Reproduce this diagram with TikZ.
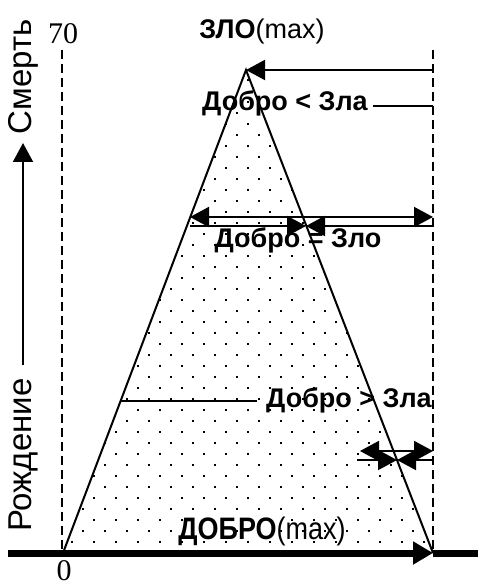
\documentclass[tikz,border=0pt]{standalone}
\usepackage{fontspec}
\setmainfont{Liberation Sans}
\newfontfamily\numfont{Liberation Serif}
\usetikzlibrary{arrows.meta}
\usetikzlibrary{positioning}

\tikzset{
    lbl/.style={font=\fontsize{27}{31}\selectfont\bfseries, inner sep=0pt},
    side/.style={font=\fontsize{33}{37}\selectfont, inner sep=0pt, rotate=90},
    num/.style={font=\numfont\fontsize{30}{34}\selectfont, inner sep=0pt},
    guide/.style={dash pattern=on 9pt off 5pt, line width=2pt},
    thin/.style={line width=2pt},
    tip/.style={thin, -{Triangle[length=19pt,width=20pt]}},
    both/.style={thin, {Triangle[length=19pt,width=20pt]}-{Triangle[length=19pt,width=20pt]}},
    axis/.style={line width=7pt},
}

\begin{document}
\begin{tikzpicture}[x=1pt, y=-1pt]
    \useasboundingbox (0,0) rectangle (478,588);

    % corners of the triangle and the axis
    \coordinate (apex) at (246,70);
    \coordinate (bl) at (63,553);
    \coordinate (br) at (433,553);
    \coordinate (axl) at (8,553);
    \coordinate (axr) at (478,553);
    \coordinate (lt) at (62,50);
    \coordinate (lb) at (62,553);
    \coordinate (rt) at (433,50);

    % dotted fill
    \begin{scope}
        \clip (apex) -- (bl) -- (br) -- cycle;
        \foreach \j in {0,...,45}{
            \pgfmathsetmacro{\yy}{553-11*\j}
            \pgfmathsetmacro{\xs}{61+11*mod(\j,2)}
            \foreach \i in {0,...,17}{
                \fill ({\xs+22*\i-1.4},{\yy-1.4}) rectangle +(2.8,2.8);
            }
        }
    \end{scope}

    \draw[guide] (lt) -- (lb);
    \draw[guide] (rt) -- (br);
    \draw[thin] (bl) -- (apex) -- (br);

    % labels
    \node[lbl] (zlo) at (262,32) {ЗЛО\mdseries(max)};
    \node[lbl] (less) at (285,103) {Добро < Зла};
    \node[lbl] (equal) at (298,240) {Добро = Зло};
    \node[lbl] (more) at (349,400) {Добро > Зла};
    \node[lbl, yscale=1.15] (dobro) at (262,531) {ДОБРО\mdseries(max)};
    \node[num] (top) at (63,34) {70};
    \node[num] (zero) at (64,571) {0};
    \node[side] (death) at (23,77) {Смерть};
    \node[side] (birth) at (23,455) {Рождение};

    % connectors
    \coordinate (r70) at (433,70);
    \draw[tip] (r70) -- (apex);
    \coordinate (lessa) at (373,106);
    \coordinate (lessb) at (433,106);
    \draw[thin] (lessa) -- (lessb);

    \coordinate (m1l) at (190,217);
    \coordinate (m1r) at (433,217);
    \draw[both] (m1l) -- (m1r);
    \coordinate (m2l) at (190,226);
    \coordinate (m2c) at (306,226);
    \coordinate (m2r) at (433,226);
    \draw[tip] (m2l) -- (m2c);
    \draw[tip] (m2r) -- (m2c);

    \coordinate (gl) at (120,401);
    \coordinate (gr) at (257,401);
    \draw[thin] (gl) -- (gr);

    \coordinate (b1l) at (360,451);
    \coordinate (b1r) at (433,451);
    \draw[both] (b1l) -- (b1r);
    \coordinate (b2l) at (357,460);
    \coordinate (b2c) at (397,460);
    \coordinate (b2r) at (433,460);
    \draw[tip] (b2l) -- (b2c);
    \draw[tip] (b2r) -- (b2c);

    \coordinate (life0) at (23,365);
    \coordinate (life1) at (23,143);
    \draw[tip] (life0) -- (life1);

    % axis
    \draw[axis, -{Triangle[length=20pt,width=22pt]}] (axl) -- (br);
    \draw[axis] (br) -- (axr);
\end{tikzpicture}
\end{document}
